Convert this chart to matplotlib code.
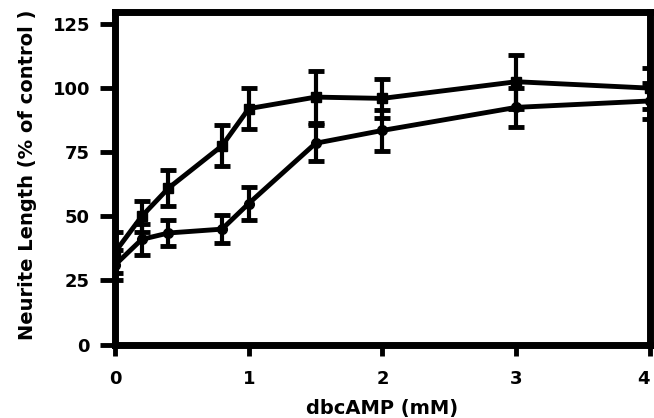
import matplotlib
matplotlib.use("Agg")
import matplotlib.pyplot as plt

# Data
dose = [0.0, 0.2, 0.4, 0.8, 1.0, 1.5, 2.0, 3.0, 4.0]
upper_mean = [36, 50, 61, 77.5, 92, 96.5, 96, 102.5, 100]
upper_err = [8, 6, 7, 8, 8, 10, 7.5, 10.5, 8]
lower_mean = [31, 41, 43.5, 45, 55, 78.5, 83.5, 92.5, 95]
lower_err = [6, 6, 5, 5.5, 6.5, 7, 8, 7.5, 7]

xticks = [0, 1, 2, 3, 4]
yticks = [0, 25, 50, 75, 100, 125]

font = {"family": "DejaVu Sans", "weight": "bold"}

fig = plt.figure(figsize=(6.54, 4.18), dpi=100)
ax = fig.add_axes([0.1758, 0.1758, 0.9939 - 0.1758, 0.9701 - 0.1758])

for mean, err, mk in [(upper_mean, upper_err, "s"), (lower_mean, lower_err, "o")]:
    ax.errorbar(dose, mean, yerr=err, color="black", lw=3.5, marker=mk,
                markersize=7, elinewidth=3, capsize=5.5, capthick=3.5,
                clip_on=True, zorder=3)

ax.set_xlim(0, 3.978)
ax.set_ylim(0, 129.5)
ax.set_xticks(xticks)
ax.set_yticks(yticks)
ax.set_xticklabels([str(t) for t in xticks], fontdict=font, fontsize=13)
ax.set_yticklabels([str(t) for t in yticks], fontdict=font, fontsize=13)
# last tick label sits at the figure edge; keep it fully inside
ax.get_xticklabels()[-1].set_ha("right")

for s in ax.spines.values():
    s.set_linewidth(5)
    s.set_color("black")

ax.tick_params(axis="y", direction="out", length=11, width=3.5, pad=7)
ax.tick_params(axis="x", direction="out", length=8, width=3.5, pad=10)

ax.set_xlabel("dbcAMP (mM)", fontdict=font, fontsize=14)
ax.set_ylabel("Neurite Length (% of control )", fontdict=font, fontsize=14)
ax.xaxis.label.set_va("center")
ax.yaxis.label.set_va("center")
ax.xaxis.set_label_coords(0.5, -0.194)
ax.yaxis.set_label_coords(-0.164, 0.51)

fig.savefig("out.png", dpi=100, facecolor="white")
